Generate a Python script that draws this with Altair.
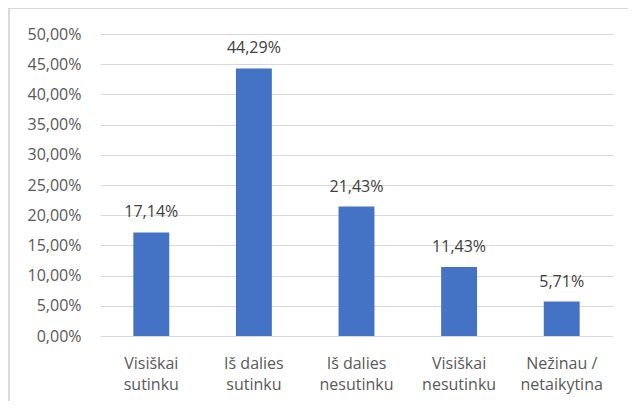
import altair as alt
import pandas as pd

categories = ["Visiškai\nsutinku", "Iš dalies\nsutinku", "Iš dalies\nnesutinku",
              "Visiškai\nnesutinku", "Nežinau /\nnetaikytina"]
values = [0.1714, 0.4429, 0.2143, 0.1143, 0.0571]
y_ticks = [0.0, 0.05, 0.10, 0.15, 0.20, 0.25, 0.30, 0.35, 0.40, 0.45, 0.50]

df = pd.DataFrame({"cat": categories, "val": values})

FONT = "Open Sans"

base = alt.Chart(df).encode(
    x=alt.X("cat:N", sort=None, title=None,
            scale=alt.Scale(paddingInner=0.65, paddingOuter=0.325),
            axis=alt.Axis(labelExpr="split(datum.label, '\\n')", labelAngle=0,
                          labelFont=FONT, labelFontSize=16, labelColor="#595959",
                          labelLineHeight=21, labelPadding=19, labelBaseline="top",
                          ticks=False, domain=False, grid=False)),
    y=alt.Y("val:Q", title=None,
            scale=alt.Scale(domain=[0, 0.5], nice=False),
            axis=alt.Axis(values=y_ticks,
                          labelExpr="replace(format(datum.value, '.2%'), '.', ',')",
                          labelFont=FONT, labelFontSize=16, labelColor="#595959",
                          labelPadding=19, ticks=False, domain=False,
                          gridColor="#D9D9D9", gridWidth=1)),
)

bars = base.mark_bar(color="#4472C4")
labels = base.transform_calculate(
    lbl="replace(format(datum.val, '.2%'), '.', ',')"
).mark_text(dy=-15, baseline="alphabetic", font=FONT, fontSize=16, color="#404040").encode(
    text="lbl:N")

border_left = alt.Chart(df).mark_rule(color="#D9D9D9", strokeWidth=1).encode(
    x=alt.value(-91), y=alt.value(-26), y2=alt.value(400))
border_top = alt.Chart(df).mark_rule(color="#D9D9D9", strokeWidth=1).encode(
    x=alt.value(-91), x2=alt.value(600), y=alt.value(-25.5))

chart = alt.layer(bars, labels, border_left, border_top).properties(
    width=513, height=302,
    padding={"left": 92, "top": 26, "right": 15, "bottom": 65},
    autosize="none",
).configure_view(stroke=None)

chart.save("out.html", embed_options={"renderer": "svg", "actions": False})
